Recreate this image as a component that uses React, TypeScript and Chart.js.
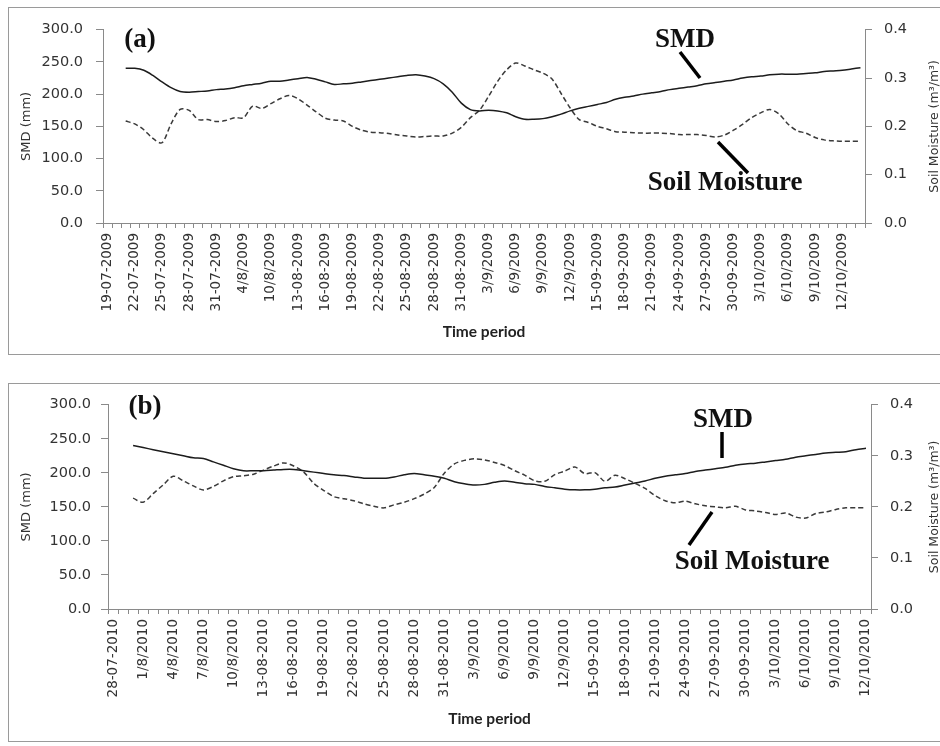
import React, { useEffect, useRef } from "react";
import { Chart, registerables } from "chart.js";

Chart.register(...registerables);

// ---------------- data: panel (a) 2009 ----------------
const TICKS_2009 = [
  "19-07-2009", "22-07-2009", "25-07-2009", "28-07-2009", "31-07-2009", "4/8/2009", "10/8/2009",
  "13-08-2009", "16-08-2009", "19-08-2009", "22-08-2009", "25-08-2009", "28-08-2009", "31-08-2009",
  "3/9/2009", "6/9/2009", "9/9/2009", "12/9/2009", "15-09-2009", "18-09-2009", "21-09-2009",
  "24-09-2009", "27-09-2009", "30-09-2009", "3/10/2009", "6/10/2009", "9/10/2009", "12/10/2009",
];

const SMD_2009 = [
  null, null,
  240, 240, 237, 229, 219, 210, 204, 203, 204, 205,
  207, 208, 210, 213, 215, 217, 220, 220, 222, 224,
  226, 223, 219, 215, 216, 217, 219, 221, 223, 225,
  227, 229, 230, 228, 224, 216, 203, 186, 176, 174,
  175, 174, 171, 165, 161, 161, 162, 165, 169, 174,
  178, 181, 184, 187, 192, 195, 197, 200, 202, 204,
  207, 209, 211, 213, 216, 218, 220, 222, 225, 227,
  228, 230, 231, 231, 231, 232, 233, 235, 236, 237,
  239, 241,
];

const SM_2009 = [
  null, null,
  0.211, 0.205, 0.193, 0.175, 0.166, 0.205, 0.235, 0.233, 0.214, 0.214,
  0.210, 0.212, 0.218, 0.218, 0.242, 0.237, 0.247, 0.257, 0.264, 0.257,
  0.244, 0.230, 0.217, 0.213, 0.211, 0.200, 0.192, 0.188, 0.187, 0.185,
  0.182, 0.180, 0.178, 0.179, 0.180, 0.180, 0.186, 0.198, 0.218, 0.233,
  0.262, 0.293, 0.317, 0.331, 0.325, 0.317, 0.310, 0.298, 0.268, 0.238,
  0.214, 0.208, 0.200, 0.195, 0.189, 0.188, 0.187, 0.186, 0.186, 0.186,
  0.185, 0.183, 0.183, 0.183, 0.181, 0.178, 0.182, 0.192, 0.204, 0.218,
  0.228, 0.235, 0.226, 0.205, 0.191, 0.186, 0.177, 0.172, 0.170, 0.169,
  0.169, 0.169,
];

// ---------------- data: panel (b) 2010 ----------------
const TICKS_2010 = [
  "28-07-2010", "1/8/2010", "4/8/2010", "7/8/2010", "10/8/2010", "13-08-2010", "16-08-2010",
  "19-08-2010", "22-08-2010", "25-08-2010", "28-08-2010", "31-08-2010", "3/9/2010", "6/9/2010",
  "9/9/2010", "12/9/2010", "15-09-2010", "18-09-2010", "21-09-2010", "24-09-2010", "27-09-2010",
  "30-09-2010", "3/10/2010", "6/10/2010", "9/10/2010", "12/10/2010",
];

const SMD_2010 = [
  null, null,
  240, 237, 234, 231, 228, 225, 222, 221, 216, 211,
  206, 203, 203, 203, 204, 205, 205, 203, 201, 199,
  197, 196, 194, 192, 192, 192, 194, 197, 199, 197,
  195, 192, 187, 184, 182, 183, 186, 188, 186, 184,
  183, 180, 178, 176, 175, 175, 176, 178, 179, 182,
  185, 188, 192, 195, 197, 199, 202, 204, 206, 208,
  211, 213, 214, 216, 218, 220, 223, 225, 227, 229,
  230, 231, 234, 236,
];

const SM_2010 = [
  null, null,
  0.217, 0.209, 0.226, 0.243, 0.260, 0.251, 0.241, 0.233, 0.240, 0.251,
  0.259, 0.261, 0.264, 0.272, 0.280, 0.286, 0.280, 0.268, 0.246, 0.232,
  0.220, 0.216, 0.212, 0.206, 0.201, 0.198, 0.204, 0.209, 0.216, 0.225,
  0.238, 0.266, 0.284, 0.291, 0.294, 0.292, 0.287, 0.281, 0.271, 0.262,
  0.251, 0.250, 0.263, 0.270, 0.278, 0.265, 0.267, 0.250, 0.262, 0.255,
  0.246, 0.236, 0.222, 0.212, 0.208, 0.211, 0.206, 0.202, 0.200, 0.198,
  0.201, 0.194, 0.192, 0.189, 0.185, 0.188, 0.180, 0.178, 0.187, 0.190,
  0.195, 0.198, 0.198, 0.198,
];

const SMD_TICKS = [0, 50, 100, 150, 200, 250, 300];
const SM_TICKS = [0, 0.1, 0.2, 0.3, 0.4];

const AXIS = "#8a8a8a";
const TXT = "#333333";

type PanelCfg = {
  ticks: string[];
  smd: (number | null)[];
  sm: (number | null)[];
  tag: string;
  leftW: number;
  rightW: number;
  xH: number;
  padTop: number;
  leftPad: number;
  ann: {
    tag: [number, number];
    smd: [number, number];
    smdLine: [number, number, number, number];
    sm: [number, number];
    smLine: [number, number, number, number];
  };
};

function buildCategories(ticks: string[], n: number) {
  return Array.from({ length: n }, (_, i) => (i % 3 === 0 && ticks[i / 3] ? ticks[i / 3] : ""));
}

function makeChart(canvas: HTMLCanvasElement, p: PanelCfg) {
  const labels = buildCategories(p.ticks, p.smd.length);
  const annotate = {
    id: "annotate",
    afterDraw(chart: any) {
      const ctx = chart.ctx;
      const a = p.ann;
      ctx.save();
      ctx.fillStyle = "#111";
      ctx.textAlign = "center";
      ctx.textBaseline = "middle";
      ctx.font = "bold 27px 'Liberation Serif'";
      ctx.fillText(p.tag, a.tag[0], a.tag[1]);
      ctx.fillText("SMD", a.smd[0], a.smd[1]);
      ctx.fillText("Soil Moisture", a.sm[0], a.sm[1]);
      ctx.strokeStyle = "#000";
      ctx.lineWidth = 3.5;
      ctx.lineCap = "butt";
      for (const l of [a.smdLine, a.smLine]) {
        ctx.beginPath();
        ctx.moveTo(l[0], l[1]);
        ctx.lineTo(l[2], l[3]);
        ctx.stroke();
      }
      // right axis title (reads bottom-to-top)
      const ca = chart.chartArea;
      ctx.translate(chart.width - 5, (ca.top + ca.bottom) / 2);
      ctx.rotate(-Math.PI / 2);
      ctx.font = "12.5px 'DejaVu Sans'";
      ctx.fillStyle = TXT;
      ctx.fillText("Soil Moisture (m\u00b3/m\u00b3)", 0, 0);
      ctx.restore();
    },
  };

  return new Chart(canvas, {
    type: "line",
    data: {
      labels,
      datasets: [
        {
          label: "SMD",
          data: p.smd,
          yAxisID: "y",
          borderColor: "#1c1c1c",
          borderWidth: 1.5,
          pointRadius: 0,
          tension: 0.3,
          fill: false,
        },
        {
          label: "Soil Moisture",
          data: p.sm,
          yAxisID: "y1",
          borderColor: "#3a3a3a",
          borderWidth: 1.5,
          borderDash: [5, 3],
          pointRadius: 0,
          tension: 0.3,
          fill: false,
        },
      ],
    },
    options: {
      animation: false,
      responsive: false,
      maintainAspectRatio: false,
      layout: { padding: { top: p.padTop, left: 0, right: 0, bottom: 0 } },
      plugins: { legend: { display: false }, tooltip: { enabled: false }, title: { display: false } },
      scales: {
        x: {
          type: "category",
          offset: true,
          grid: { display: true, drawOnChartArea: false, drawTicks: true, tickLength: 5, color: AXIS, offset: true },
          border: { display: true, color: AXIS, width: 1 },
          ticks: {
            autoSkip: false,
            maxRotation: 90,
            minRotation: 90,
            padding: 5,
            color: TXT,
            font: { family: "'DejaVu Sans'", size: 13.5 },
            callback: (_v: any, i: number) => labels[i],
          },
          title: {
            display: true,
            text: "Time period",
            color: "#222",
            font: { family: "Lato", weight: "bold", size: 15.5 },
            padding: { top: 0, bottom: 13 },
          },
          afterFit: (s: any) => {
            s.height = p.xH;
          },
        },
        y: {
          position: "left",
          min: 0,
          max: 300,
          afterBuildTicks: (s: any) => {
            s.ticks = SMD_TICKS.map((v) => ({ value: v }));
          },
          grid: { display: true, drawOnChartArea: false, drawTicks: true, tickLength: 7, color: AXIS },
          border: { display: true, color: AXIS, width: 1 },
          ticks: {
            padding: p.leftPad,
            color: TXT,
            font: { family: "'DejaVu Sans'", size: 14.5 },
            callback: (v: any) => Number(v).toFixed(1),
          },
          title: {
            display: true,
            text: "SMD (mm)",
            color: TXT,
            font: { family: "'DejaVu Sans'", size: 13 },
            padding: { top: 10, bottom: 0 },
          },
          afterFit: (s: any) => {
            s.width = p.leftW;
          },
        },
        y1: {
          position: "right",
          min: 0,
          max: 0.4,
          afterBuildTicks: (s: any) => {
            s.ticks = SM_TICKS.map((v) => ({ value: v }));
          },
          grid: { display: true, drawOnChartArea: false, drawTicks: true, tickLength: 7, color: AXIS },
          border: { display: true, color: AXIS, width: 1 },
          ticks: {
            padding: 12,
            color: TXT,
            font: { family: "'DejaVu Sans'", size: 14.5 },
            callback: (v: any) => Number(v).toFixed(1),
          },
          afterFit: (s: any) => {
            s.width = p.rightW;
          },
        },
      },
    },
    plugins: [annotate],
  } as any);
}

function Panel(props: { cfg: PanelCfg; top: number; height: number }) {
  const ref = useRef<HTMLCanvasElement | null>(null);
  useEffect(() => {
    if (!ref.current) return;
    const c = makeChart(ref.current, props.cfg);
    return () => c.destroy();
  }, []);
  return (
    <div
      style={{
        position: "absolute",
        left: 8,
        top: props.top,
        width: 931,
        height: props.height,
        border: "1px solid #9a9a9a",
        borderRight: "none",
        background: "#fff",
      }}
    >
      <canvas ref={ref} width={931} height={props.height} style={{ display: "block", width: 931, height: props.height }} />
    </div>
  );
}

const PANEL_A: PanelCfg = {
  ticks: TICKS_2009,
  smd: SMD_2009,
  sm: SM_2009,
  tag: "(a)",
  leftW: 94,
  rightW: 75,
  xH: 131,
  padTop: 17,
  leftPad: 13,
  ann: {
    tag: [131, 32],
    smd: [676, 32],
    smdLine: [671, 44, 691, 70],
    sm: [716, 175],
    smLine: [709, 134, 739, 165],
  },
};

const PANEL_B: PanelCfg = {
  ticks: TICKS_2010,
  smd: SMD_2010,
  sm: SM_2010,
  tag: "(b)",
  leftW: 99,
  rightW: 69,
  xH: 132,
  padTop: 18,
  leftPad: 10,
  ann: {
    tag: [136, 23],
    smd: [714, 36],
    smdLine: [713, 48, 713, 74],
    sm: [743, 178],
    smLine: [703, 128, 680, 161],
  },
};

export default function App() {
  return (
    <div>
      <style>{`html,body{overflow:hidden;background:#fff;}`}</style>
      <Panel cfg={PANEL_A} top={7} height={346} />
      <Panel cfg={PANEL_B} top={383} height={357} />
    </div>
  );
}
